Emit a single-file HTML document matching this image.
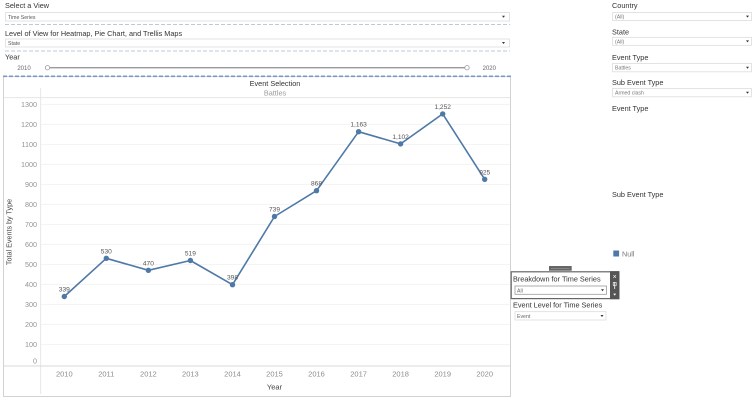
<!DOCTYPE html>
<html>
<head>
<meta charset="utf-8">
<style>
html,body{margin:0;padding:0;background:#fff;}
body{width:752px;height:401px;overflow:hidden;}
svg{display:block;font-family:"Liberation Sans",Arial,sans-serif;}
</style>
</head>
<body>
<svg width="752" height="401" viewBox="0 0 752 401" xmlns="http://www.w3.org/2000/svg">
  <rect width="752" height="401" fill="#fff"/>

  <!-- Left top controls -->
  <text x="5" y="8" font-size="7.3" fill="#333">Select a View</text>
  <rect x="5.5" y="12.5" width="504" height="8.5" fill="#fff" stroke="#dcdcdc" stroke-width="0.8"/>
  <text x="8" y="18.8" font-size="5.2" fill="#555">Time Series</text>
  <path d="M502 15.8 L505 15.8 L503.5 17.8 Z" fill="#333"/>
  <line x1="5" y1="24.5" x2="510" y2="24.5" stroke="#b8c9e3" stroke-width="1" stroke-dasharray="4,2"/>

  <text x="5" y="36" font-size="7.3" fill="#333">Level of View for Heatmap, Pie Chart, and Trellis Maps</text>
  <rect x="5.5" y="39" width="504" height="8" fill="#fff" stroke="#dcdcdc" stroke-width="0.8"/>
  <text x="8" y="45" font-size="5.2" fill="#555">State</text>
  <path d="M502 42 L505 42 L503.5 44 Z" fill="#333"/>
  <line x1="5" y1="51" x2="510" y2="51" stroke="#b8c9e3" stroke-width="1" stroke-dasharray="4,2"/>

  <text x="5" y="59.3" font-size="7.3" fill="#333">Year</text>
  <text x="24" y="70" font-size="6" fill="#666" text-anchor="middle">2010</text>
  <line x1="48" y1="67.7" x2="466" y2="67.7" stroke="#9a9a9a" stroke-width="1.3"/>
  <circle cx="47.5" cy="67.7" r="2.2" fill="#fff" stroke="#999" stroke-width="0.8"/>
  <circle cx="467" cy="67.7" r="2.2" fill="#fff" stroke="#999" stroke-width="0.8"/>
  <text x="489.3" y="70" font-size="6" fill="#666" text-anchor="middle">2020</text>

  <!-- Chart frame -->
  <rect x="3.5" y="76.5" width="507" height="320" fill="#fff" stroke="#d2d2d2" stroke-width="1"/>
  <line x1="3" y1="76.3" x2="511" y2="76.3" stroke="#7b9bc7" stroke-width="1.6" stroke-dasharray="4,2"/>

  <text x="275" y="86" font-size="7.3" fill="#333" text-anchor="middle">Event Selection</text>
  <text x="275" y="95.3" font-size="7.3" fill="#9a9a9a" text-anchor="middle">Battles</text>
  <line x1="3.5" y1="97.7" x2="510" y2="97.7" stroke="#e2e2e2" stroke-width="0.8"/>
  <line x1="40.7" y1="88" x2="40.7" y2="394" stroke="#e2e2e2" stroke-width="0.8"/>

  <!-- gridlines -->
  <g stroke="#f1f1f1" stroke-width="0.8">
    <line x1="41" y1="104.3" x2="510" y2="104.3"/>
    <line x1="41" y1="124.3" x2="510" y2="124.3"/>
    <line x1="41" y1="144.3" x2="510" y2="144.3"/>
    <line x1="41" y1="164.3" x2="510" y2="164.3"/>
    <line x1="41" y1="184.3" x2="510" y2="184.3"/>
    <line x1="41" y1="204.3" x2="510" y2="204.3"/>
    <line x1="41" y1="224.3" x2="510" y2="224.3"/>
    <line x1="41" y1="244.3" x2="510" y2="244.3"/>
    <line x1="41" y1="264.3" x2="510" y2="264.3"/>
    <line x1="41" y1="284.3" x2="510" y2="284.3"/>
    <line x1="41" y1="304.3" x2="510" y2="304.3"/>
    <line x1="41" y1="324.3" x2="510" y2="324.3"/>
    <line x1="41" y1="344.3" x2="510" y2="344.3"/>
  </g>
  <line x1="3.5" y1="366" x2="510" y2="366" stroke="#d8d8d8" stroke-width="0.9"/>

  <!-- y tick labels -->
  <g font-size="7.2" fill="#949494" text-anchor="end">
    <text x="37" y="106.8">1300</text>
    <text x="37" y="126.8">1200</text>
    <text x="37" y="146.8">1100</text>
    <text x="37" y="166.8">1000</text>
    <text x="37" y="186.8">900</text>
    <text x="37" y="206.8">800</text>
    <text x="37" y="226.8">700</text>
    <text x="37" y="246.8">600</text>
    <text x="37" y="266.8">500</text>
    <text x="37" y="286.8">400</text>
    <text x="37" y="306.8">300</text>
    <text x="37" y="326.8">200</text>
    <text x="37" y="346.8">100</text>
    <text x="37" y="363.5">0</text>
  </g>
  <text transform="translate(11.6,232) rotate(-90)" font-size="7.2" fill="#444" text-anchor="middle">Total Events by Type</text>

  <!-- x tick labels -->
  <g font-size="7.5" fill="#8c8c8c" text-anchor="middle">
    <text x="64.3" y="376.7">2010</text>
    <text x="106.3" y="376.7">2011</text>
    <text x="148.4" y="376.7">2012</text>
    <text x="190.4" y="376.7">2013</text>
    <text x="232.5" y="376.7">2014</text>
    <text x="274.5" y="376.7">2015</text>
    <text x="316.5" y="376.7">2016</text>
    <text x="358.6" y="376.7">2017</text>
    <text x="400.6" y="376.7">2018</text>
    <text x="442.7" y="376.7">2019</text>
    <text x="484.7" y="376.7">2020</text>
  </g>
  <text x="274.5" y="389.5" font-size="7.6" fill="#444" text-anchor="middle">Year</text>

  <!-- series -->
  <polyline fill="none" stroke="#4e79a7" stroke-width="1.6" stroke-linejoin="round"
    points="64.3,296.5 106.3,258.3 148.4,270.3 190.4,260.5 232.5,284.7 274.5,216.5 316.5,190.7 358.6,131.7 400.6,143.9 442.7,113.9 484.7,179.3"/>
  <g fill="#4e79a7">
    <circle cx="64.3" cy="296.5" r="2.7"/>
    <circle cx="106.3" cy="258.3" r="2.7"/>
    <circle cx="148.4" cy="270.3" r="2.7"/>
    <circle cx="190.4" cy="260.5" r="2.7"/>
    <circle cx="232.5" cy="284.7" r="2.7"/>
    <circle cx="274.5" cy="216.5" r="2.7"/>
    <circle cx="316.5" cy="190.7" r="2.7"/>
    <circle cx="358.6" cy="131.7" r="2.7"/>
    <circle cx="400.6" cy="143.9" r="2.7"/>
    <circle cx="442.7" cy="113.9" r="2.7"/>
    <circle cx="484.7" cy="179.3" r="2.7"/>
  </g>
  <g font-size="6.6" fill="#555" text-anchor="middle">
    <text x="64.3" y="291.5">339</text>
    <text x="106.3" y="253.3">530</text>
    <text x="148.4" y="265.3">470</text>
    <text x="190.4" y="255.5">519</text>
    <text x="232.5" y="279.7">398</text>
    <text x="274.5" y="211.5">739</text>
    <text x="316.5" y="185.7">868</text>
    <text x="358.6" y="126.7">1,163</text>
    <text x="400.6" y="138.9">1,102</text>
    <text x="442.7" y="108.9">1,252</text>
    <text x="484.7" y="174.3">925</text>
  </g>

  <!-- Right panel -->
  <g font-size="7.3" fill="#333">
    <text x="612" y="8">Country</text>
    <text x="612" y="34.5">State</text>
    <text x="612" y="59.8">Event Type</text>
    <text x="612" y="84.8">Sub Event Type</text>
    <text x="612" y="110.8">Event Type</text>
    <text x="612" y="196.8">Sub Event Type</text>
  </g>
  <g fill="#fff" stroke="#dcdcdc" stroke-width="0.8">
    <rect x="612.5" y="12.5" width="139" height="8"/>
    <rect x="612.5" y="37.3" width="139" height="8"/>
    <rect x="612.5" y="63.5" width="139" height="8.3"/>
    <rect x="612.5" y="88.5" width="139" height="8.3"/>
  </g>
  <g font-size="5.2" fill="#777">
    <text x="615" y="18.6">(All)</text>
    <text x="615" y="43.4">(All)</text>
    <text x="615" y="69.7">Battles</text>
    <text x="615" y="94.7">Armed clash</text>
  </g>
  <g fill="#333">
    <path d="M746 15.6 L749 15.6 L747.5 17.6 Z"/>
    <path d="M746 40.4 L749 40.4 L747.5 42.4 Z"/>
    <path d="M746 66.7 L749 66.7 L747.5 68.7 Z"/>
    <path d="M746 91.7 L749 91.7 L747.5 93.7 Z"/>
  </g>

  <!-- Null legend -->
  <rect x="613.3" y="250.5" width="5.8" height="6" fill="#4e79a7"/>
  <text x="622" y="256.5" font-size="7.2" fill="#777">Null</text>

  <!-- floating panel -->
  <rect x="549" y="266" width="22.7" height="4.7" fill="#666"/>
  <line x1="551" y1="268.3" x2="569.7" y2="268.3" stroke="#999" stroke-width="0.7"/>
  <rect x="511.2" y="271.8" width="107.6" height="26.8" fill="#fff" stroke="#666" stroke-width="1.2"/>
  <rect x="610" y="271.2" width="9.4" height="28" fill="#555"/>
  <text x="614.7" y="279" font-size="7" fill="#fff" text-anchor="middle">×</text>
  <line x1="614.7" y1="282" x2="614.7" y2="289" stroke="#fff" stroke-width="0.8"/>
  <rect x="613.2" y="282.5" width="3" height="3" fill="none" stroke="#fff" stroke-width="0.6"/>
  <path d="M613.2 293.6 L616.2 293.6 L614.7 295.6 Z" fill="#fff"/>

  <text x="513" y="281.5" font-size="7.3" fill="#333">Breakdown for Time Series</text>
  <rect x="515" y="286" width="91.5" height="8.3" fill="#fff" stroke="#999" stroke-width="0.8"/>
  <text x="517" y="292.3" font-size="5.2" fill="#666">All</text>
  <path d="M601 289.3 L604 289.3 L602.5 291.3 Z" fill="#333"/>

  <text x="513" y="307.3" font-size="7.3" fill="#333">Event Level for Time Series</text>
  <rect x="515" y="311.7" width="91" height="8.3" fill="#fff" stroke="#dcdcdc" stroke-width="0.8"/>
  <text x="517" y="318" font-size="5.2" fill="#666">Event</text>
  <path d="M600.5 315 L603.5 315 L602 317 Z" fill="#333"/>
</svg>
</body>
</html>
